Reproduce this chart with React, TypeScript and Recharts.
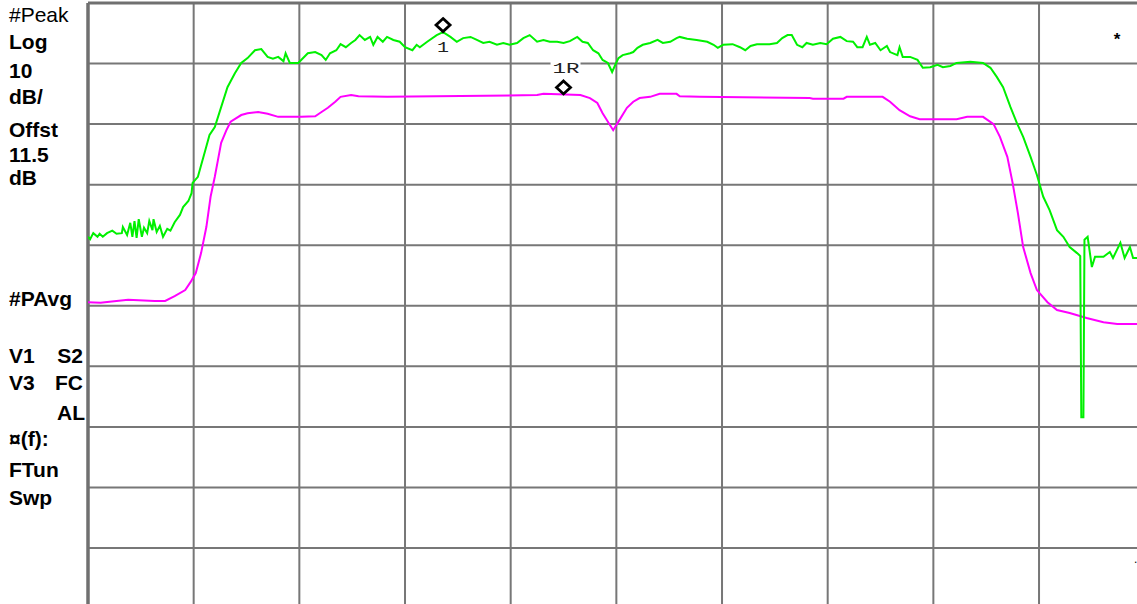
import {
  ComposedChart,
  Line,
  Scatter,
  XAxis,
  YAxis,
  CartesianGrid,
  ReferenceLine,
} from "recharts";

// sweep points 0..1000 (100 per division), level in dB (ref at top line, 10 dB/div)
const GREEN_FREQ = [
  0, 2, 5, 9, 11, 14, 18, 23, 27, 32, 33, 37, 40, 42, 44, 46, 48, 51, 53, 56, 58, 61, 62, 65, 68, 71,
  75, 78, 82, 87, 90, 95, 98, 99, 104, 111, 115, 120, 126, 132, 139, 145, 151, 158, 164, 170, 175,
  180, 185, 187, 191, 199, 208, 215, 221, 225, 229, 235, 239, 244, 249, 253, 257, 262, 267, 270,
  274, 279, 283, 289, 295, 300, 307, 311, 314, 321, 330, 336, 343, 349, 355, 362, 368, 374, 380,
  387, 393, 399, 406, 412, 418, 425, 431, 437, 444, 450, 456, 463, 468, 473, 478, 483, 487, 492,
  496, 499, 502, 506, 513, 516, 520, 525, 532, 539, 544, 551, 557, 560, 567, 576, 586, 592, 596,
  601, 610, 617, 622, 627, 633, 639, 645, 652, 657, 662, 666, 671, 676, 680, 686, 693, 699, 705,
  712, 718, 724, 728, 733, 737, 740, 745, 750, 756, 759, 766, 768, 771, 778, 785, 790, 797, 804,
  809, 816, 822, 835, 847, 854, 860, 866, 873, 879, 885, 892, 898, 904, 910, 917, 923, 929, 936,
  938, 939, 940, 942, 943, 946, 950, 953, 961, 967, 970, 977, 981, 986, 989, 993,
];
const GREEN_DB = [
  -38.6, -39.0, -38.0, -38.6, -38.1, -38.6, -38.0, -37.6, -38.1, -38.0, -37.0, -38.3, -36.3, -38.6,
  -36.0, -38.8, -35.7, -38.6, -37.1, -38.0, -36.0, -37.5, -35.7, -37.8, -36.8, -38.6, -37.3, -37.6,
  -36.2, -35.0, -33.7, -32.7, -31.4, -29.7, -28.7, -24.3, -21.8, -20.5, -17.2, -13.9, -11.6, -9.9,
  -9.1, -7.8, -7.6, -8.9, -9.2, -8.9, -9.6, -8.3, -9.9, -9.9, -8.3, -8.1, -8.6, -9.4, -8.3, -7.8,
  -6.8, -7.3, -6.6, -6.1, -5.3, -6.1, -5.6, -6.9, -5.6, -6.4, -5.6, -6.1, -6.4, -7.3, -7.8, -6.9,
  -7.3, -6.4, -5.3, -4.8, -5.6, -6.4, -5.8, -5.6, -6.1, -6.6, -6.4, -6.9, -6.6, -6.9, -6.6, -5.8,
  -5.3, -6.4, -6.1, -6.4, -6.4, -6.6, -6.3, -5.6, -6.4, -6.6, -7.8, -8.3, -9.4, -9.9, -11.4, -10.2,
  -9.1, -8.6, -8.3, -8.1, -7.4, -6.9, -6.6, -6.1, -6.6, -6.4, -5.8, -5.6, -5.9, -6.1, -6.4, -6.9,
  -7.4, -6.9, -6.8, -7.3, -7.8, -7.1, -6.8, -6.8, -6.8, -6.6, -5.8, -5.3, -5.3, -6.9, -7.3, -6.6,
  -6.9, -6.6, -6.8, -5.9, -5.6, -6.3, -6.4, -7.3, -7.3, -5.6, -6.9, -6.6, -7.8, -7.1, -8.1, -8.6,
  -7.3, -8.9, -8.9, -9.4, -10.7, -10.6, -10.2, -10.6, -10.4, -9.9, -9.7, -9.9, -10.7, -12.2, -13.9,
  -17.2, -19.8, -22.1, -25.4, -28.4, -32.0, -34.2, -37.5, -38.6, -40.3, -41.3, -41.6, -41.8, -68.4,
  -68.4, -39.1, -38.6, -43.6, -41.9, -41.9, -41.1, -42.1, -39.6, -42.1, -40.3, -42.1, -42.1,
];

const MAGENTA_FREQ = [
  0, 12, 16, 38, 63, 73, 82, 92, 97, 102, 107, 112, 116, 120, 123, 126, 131, 135, 145, 151, 161,
  170, 180, 189, 202, 215, 221, 227, 234, 239, 249, 256, 283, 425, 431, 466, 475, 482, 487, 497,
  503, 510, 516, 522, 532, 541, 557, 560, 579, 683, 686, 715, 718, 752, 759, 768, 778, 787, 804,
  822, 832, 847, 857, 863, 870, 875, 880, 885, 892, 898, 908, 917, 929, 945, 961, 974, 993,
];
const MAGENTA_DB = [
  -49.4, -49.5, -49.4, -49.0, -49.2, -49.2, -48.4, -47.4, -46.1, -44.6, -41.3, -37.0, -32.0, -28.7,
  -25.9, -23.1, -21.0, -19.6, -18.5, -18.2, -18.0, -18.3, -18.8, -18.8, -18.8, -18.7, -18.0, -17.3,
  -16.3, -15.5, -15.2, -15.4, -15.5, -15.2, -15.0, -15.2, -15.7, -16.5, -18.2, -21.0, -19.3, -17.3,
  -16.3, -15.7, -15.5, -15.0, -15.0, -15.4, -15.5, -15.7, -15.8, -15.8, -15.5, -15.5, -16.3, -17.7,
  -18.7, -19.2, -19.2, -19.2, -18.8, -18.8, -20.0, -22.1, -25.4, -29.7, -34.7, -40.3, -44.6, -47.4,
  -49.4, -50.7, -51.2, -52.0, -52.7, -53.0, -53.0,
];

const MARKER_FREQ = [336, 450];
const MARKER_DB = [-4.8, -15.1];
const MARKER_NAME = ["1", "1R"];

const FREQ_TICKS = [0, 100, 200, 300, 400, 500, 600, 700, 800, 900, 1000];
const DB_TICKS = [0, -10, -20, -30, -40, -50, -60, -70, -80, -90, -100];

const greenData = GREEN_FREQ.map((f, i) => ({ f, db: GREEN_DB[i] }));
const magentaData = MAGENTA_FREQ.map((f, i) => ({ f, db: MAGENTA_DB[i] }));
const markerData = MARKER_FREQ.map((f, i) => ({ f, db: MARKER_DB[i], name: MARKER_NAME[i] }));

const SANS = "'Liberation Sans', Arial, sans-serif";
const MONO = "'Liberation Mono', 'DejaVu Sans Mono', monospace";

function MarkerShape(props: any) {
  const { cx, cy, payload } = props;
  if (cx == null || cy == null) return null;
  const ref = payload.name === "1R";
  const mx = cx;
  const my = cy - 7;
  return (
    <g>
      <path
        d={`M${mx},${my - 6.5} L${mx + 7},${my} L${mx},${my + 6.5} L${mx - 7},${my} Z`}
        fill="none"
        stroke="#000"
        strokeWidth={2.8}
        strokeLinejoin="miter"
      />
      {ref ? (
        <g>
          <rect x={cx - 13} y={cy - 33} width={30} height={15} fill="#fff" />
          <text x={cx - 11} y={cy - 21} fontFamily={MONO} fontSize={14} fill="#222"
            textLength={27} lengthAdjust="spacingAndGlyphs">
            {payload.name}
          </text>
        </g>
      ) : (
        <text x={cx - 6} y={cy + 19.5} fontFamily={MONO} fontSize={14} fill="#222"
          textLength={12} lengthAdjust="spacingAndGlyphs">
          {payload.name}
        </text>
      )}
    </g>
  );
}

export default function App() {
  return (
    <div
      style={{
        position: "fixed",
        left: 0,
        top: 0,
        width: 1137,
        height: 604,
        overflow: "hidden",
        background: "#fff",
      }}
    >
      <div style={{ position: "absolute", left: 0, top: 0 }}>
        <ComposedChart
          width={1160}
          height={620}
          margin={{ top: 3, right: 15.3, bottom: 11.4, left: 88 }}
        >
          <XAxis type="number" dataKey="f" domain={[0, 1000]} ticks={FREQ_TICKS} hide allowDataOverflow />
          <YAxis type="number" dataKey="db" domain={[-100, 0]} ticks={DB_TICKS} hide allowDataOverflow />
          <CartesianGrid stroke="#777" strokeWidth={2} />
          <ReferenceLine x={0} stroke="#707070" strokeWidth={3.5} />
          <ReferenceLine y={0} stroke="#707070" strokeWidth={3} />
          <Line
            data={magentaData}
            dataKey="db"
            type="linear"
            stroke="#ff00ff"
            strokeWidth={2}
            dot={false}
            isAnimationActive={false}
          />
          <Line
            data={greenData}
            dataKey="db"
            type="linear"
            stroke="#00f000"
            strokeWidth={2}
            dot={false}
            isAnimationActive={false}
          />
          <Scatter data={markerData} dataKey="db" shape={MarkerShape} isAnimationActive={false} />
        </ComposedChart>
      </div>
      <svg
        width={1137}
        height={604}
        style={{ position: "absolute", left: 0, top: 0, pointerEvents: "none" }}
      >
        <g fontFamily={SANS} fontSize={21} fill="#000">
          <text x={9} y={22}>#Peak</text>
          <g fontWeight="bold">
            <text x={9} y={49}>Log</text>
            <text x={9} y={78}>10</text>
            <text x={9} y={104}>dB/</text>
            <text x={9} y={137}>Offst</text>
            <text x={9} y={162}>11.5</text>
            <text x={9} y={185}>dB</text>
            <text x={9} y={306}>#PAvg</text>
            <text x={9} y={363}>V1</text>
            <text x={83} y={363} textAnchor="end">S2</text>
            <text x={9} y={390}>V3</text>
            <text x={83} y={390} textAnchor="end">FC</text>
            <text x={85} y={420} textAnchor="end">AL</text>
            <text x={9} y={446}>¤(f):</text>
            <text x={9} y={477}>FTun</text>
            <text x={9} y={505}>Swp</text>
          </g>
        </g>
        <text x={1117} y={45} textAnchor="middle" fontFamily={SANS} fontSize={17} fontWeight="bold">*</text>
        <text x={1134} y={563} fontFamily={SANS} fontSize={12}>.</text>
      </svg>
    </div>
  );
}
